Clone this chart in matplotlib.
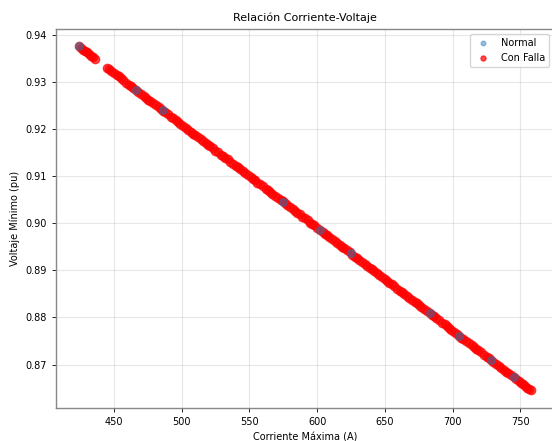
import numpy as np
import matplotlib
matplotlib.use("Agg")
import matplotlib.pyplot as plt

# Corriente máxima (A) y voltaje mínimo (pu) - casos normales
corriente_normal = [424, 466, 486, 575, 602, 625, 683, 705, 728, 745]
voltaje_normal = [0.9375, 0.9283, 0.9239, 0.9045, 0.8986, 0.8936, 0.8809, 0.8761, 0.8710, 0.8673]

# Casos con falla
corriente_falla = [
    424, 427, 430, 433, 436, 445, 448, 452, 455, 459, 463, 466, 470, 474, 477,
    481, 485, 488, 492, 496, 499, 503, 507, 510, 514, 518, 521, 525, 529, 532,
    536, 540, 543, 547, 551, 554, 558, 562, 565, 569, 573, 576, 580, 584, 587,
    591, 595, 598, 602, 606, 609, 613, 617, 620, 624, 628, 631, 635, 639, 642,
    646, 650, 653, 657, 661, 664, 668, 672, 675, 679, 683, 686, 690, 694, 697,
    701, 705, 708, 712, 716, 719, 723, 727, 730, 734, 738, 741, 745, 749, 752,
    755, 758,
    425.5, 428.5, 431.5, 434.5, 446.5, 450, 453.5, 457, 461, 464.5, 468, 472,
    475.5, 479, 483, 486.5, 490, 494, 497.5, 501, 505, 508.5, 512, 516, 519.5,
    523, 527, 530.5, 534, 538, 541.5, 545, 549, 552.5, 556, 560, 563.5, 567,
    571, 574.5, 578, 582, 585.5, 589, 593, 596.5, 600, 604, 607.5, 611, 615,
    618.5, 622, 626, 629.5, 633, 637, 640.5, 644, 648, 651.5, 655, 659, 662.5,
    666, 670, 673.5, 677, 681, 684.5, 688, 692, 695.5, 699, 703, 706.5, 710,
    714, 717.5, 721, 725, 728.5, 732, 736, 739.5, 743, 747, 750.5, 753.5, 756.5,
]
voltaje_falla = [
    0.9375, 0.9368, 0.9362, 0.9355, 0.9349, 0.9329, 0.9323, 0.9314, 0.9307, 0.9298,
    0.9290, 0.9283, 0.9274, 0.9266, 0.9259, 0.9250, 0.9242, 0.9235, 0.9226, 0.9218,
    0.9211, 0.9202, 0.9194, 0.9187, 0.9178, 0.9170, 0.9163, 0.9154, 0.9145, 0.9139,
    0.9130, 0.9121, 0.9115, 0.9106, 0.9097, 0.9091, 0.9082, 0.9073, 0.9067, 0.9058,
    0.9049, 0.9043, 0.9034, 0.9025, 0.9019, 0.9010, 0.9001, 0.8995, 0.8986, 0.8977,
    0.8971, 0.8962, 0.8953, 0.8947, 0.8938, 0.8929, 0.8922, 0.8914, 0.8905, 0.8898,
    0.8890, 0.8881, 0.8874, 0.8866, 0.8857, 0.8850, 0.8842, 0.8833, 0.8826, 0.8818,
    0.8809, 0.8802, 0.8794, 0.8785, 0.8778, 0.8769, 0.8761, 0.8754, 0.8745, 0.8737,
    0.8730, 0.8721, 0.8713, 0.8706, 0.8697, 0.8689, 0.8682, 0.8673, 0.8665, 0.8658,
    0.8651, 0.8645,
    0.9372, 0.9365, 0.9359, 0.9352, 0.9326, 0.9318, 0.9311, 0.9303, 0.9294, 0.9286,
    0.9279, 0.9270, 0.9262, 0.9255, 0.9246, 0.9238, 0.9231, 0.9222, 0.9214, 0.9207,
    0.9198, 0.9190, 0.9183, 0.9174, 0.9166, 0.9159, 0.9150, 0.9142, 0.9135, 0.9126,
    0.9118, 0.9110, 0.9102, 0.9094, 0.9086, 0.9078, 0.9070, 0.9062, 0.9054, 0.9046,
    0.9038, 0.9030, 0.9022, 0.9014, 0.9006, 0.8998, 0.8990, 0.8982, 0.8974, 0.8966,
    0.8957, 0.8950, 0.8942, 0.8933, 0.8926, 0.8918, 0.8909, 0.8902, 0.8894, 0.8885,
    0.8878, 0.8870, 0.8861, 0.8854, 0.8846, 0.8837, 0.8830, 0.8822, 0.8813, 0.8806,
    0.8798, 0.8789, 0.8782, 0.8774, 0.8765, 0.8757, 0.8750, 0.8741, 0.8733, 0.8726,
    0.8717, 0.8709, 0.8702, 0.8693, 0.8685, 0.8678, 0.8669, 0.8661, 0.8655, 0.8648,
]

fig = plt.figure(figsize=(5.52, 4.41), dpi=100)
ax = fig.add_axes([0.1014, 0.0755, 0.902, 0.8585])

# los puntos normales quedan por encima para que se distingan
ax.scatter(corriente_normal, voltaje_normal, s=30, color="#1f77b4", alpha=0.45,
           label="Normal", zorder=3)
ax.scatter(corriente_falla, voltaje_falla, s=36, color="red", alpha=0.7,
           label="Con Falla", zorder=2)

ax.set_title("Relación Corriente-Voltaje", fontsize=8)
ax.set_xlabel("Corriente Máxima (A)", fontsize=7)
ax.set_ylabel("Voltaje Mínimo (pu)", fontsize=7)
ax.tick_params(labelsize=7, width=0.6, length=3)
for s in ax.spines.values():
    s.set_color("#888888")
    s.set_linewidth(1.0)
ax.grid(True, alpha=0.3)
ax.legend(fontsize=7, loc="upper right", markerscale=0.6)

fig.savefig("out.png", dpi=100)
